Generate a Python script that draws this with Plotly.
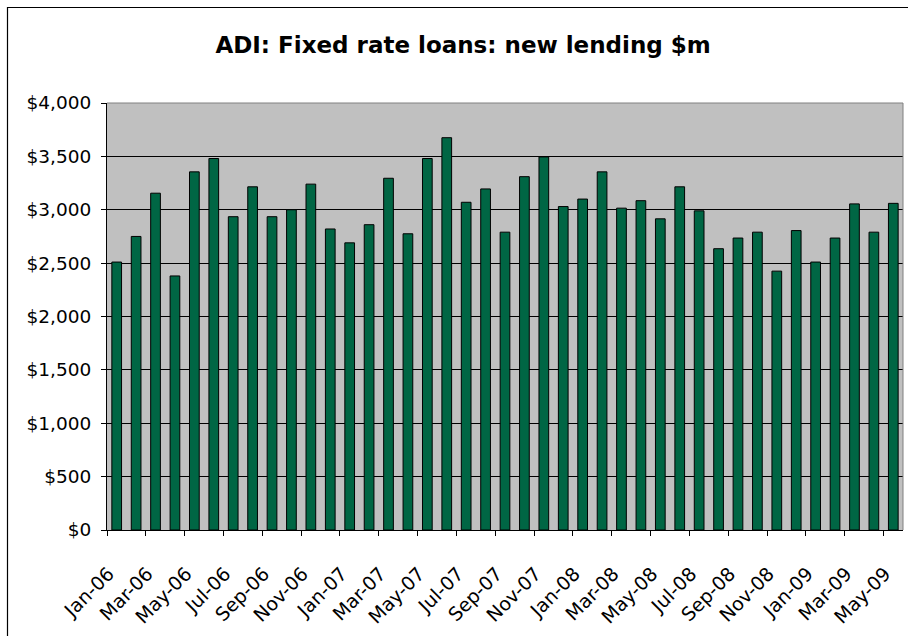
import plotly.graph_objects as go

# Monthly new lending on fixed rate loans by ADIs ($m)
months = [
    "Jan-06", "Feb-06", "Mar-06", "Apr-06", "May-06", "Jun-06",
    "Jul-06", "Aug-06", "Sep-06", "Oct-06", "Nov-06", "Dec-06",
    "Jan-07", "Feb-07", "Mar-07", "Apr-07", "May-07", "Jun-07",
    "Jul-07", "Aug-07", "Sep-07", "Oct-07", "Nov-07", "Dec-07",
    "Jan-08", "Feb-08", "Mar-08", "Apr-08", "May-08", "Jun-08",
    "Jul-08", "Aug-08", "Sep-08", "Oct-08", "Nov-08", "Dec-08",
    "Jan-09", "Feb-09", "Mar-09", "Apr-09", "May-09",
]
lending = [
    2510, 2750, 3155, 2380, 3355, 3480,
    2935, 3215, 2935, 3000, 3240, 2820,
    2690, 2860, 3295, 2775, 3480, 3675,
    3070, 3195, 2790, 3310, 3495, 3030,
    3100, 3355, 3015, 3085, 2915, 3215,
    2990, 2635, 2735, 2790, 2425, 2805,
    2510, 2735, 3055, 2790, 3060,
]
y_ticks = [0, 500, 1000, 1500, 2000, 2500, 3000, 3500, 4000]
y_labels = ["$" + format(v, ",") for v in y_ticks]

FONT = "DejaVu Sans, Arial, sans-serif"
W, H = 908, 636
L, R, T, B = 107, 5, 103, 106

idx = list(range(len(months)))
n = len(months)
# tick marks on the category boundaries, every second month
tick_pos = [i - 0.5 for i in idx[::2]]
# month labels, hanging from just right of each boundary
label_pos = [i - 0.42 for i in idx[::2]]
label_txt = months[::2]

fig = go.Figure(
    go.Bar(
        x=idx,
        y=lending,
        width=0.5,
        marker=dict(color="#006644", line=dict(color="#000000", width=1)),
        hoverinfo="y",
    )
)

pw, ph = W - L - R, H - T - B
def px_x(p):
    return (p - L) / pw
def px_y(p):
    return (H - B - p) / ph

fig.update_layout(
    width=W,
    height=H,
    margin=dict(l=L, r=R, t=T, b=B),
    paper_bgcolor="white",
    plot_bgcolor="#C0C0C0",
    showlegend=False,
    title=dict(
        text="<b>ADI: Fixed rate loans: new lending $m</b>",
        x=0.51,
        xanchor="center",
        y=1 - 45 / H,
        yanchor="middle",
        font=dict(family=FONT, size=23, color="#000000"),
    ),
    xaxis=dict(
        range=[-0.5, n - 0.5],
        tickmode="array",
        tickvals=tick_pos,
        showticklabels=False,
        ticks="outside",
        ticklen=5,
        tickcolor="#000000",
        showgrid=False,
        zeroline=False,
        showline=True,
        linecolor="#000000",
        linewidth=1,
    ),
    xaxis2=dict(
        overlaying="x",
        anchor="y",
        side="bottom",
        matches="x",
        tickmode="array",
        tickvals=label_pos,
        ticktext=label_txt,
        tickangle=-45,
        ticks="",
        ticklabelstandoff=28,
        showgrid=False,
        zeroline=False,
        showline=False,
        tickfont=dict(family=FONT, size=19, color="#000000"),
    ),
    yaxis=dict(
        range=[0, 4000],
        tickmode="array",
        tickvals=y_ticks,
        ticktext=y_labels,
        ticks="outside",
        ticklen=5,
        tickcolor="#000000",
        showgrid=True,
        gridcolor="#000000",
        gridwidth=1,
        zeroline=False,
        showline=True,
        linecolor="#000000",
        linewidth=1,
        ticklabelstandoff=6,
        tickfont=dict(family=FONT, size=18.5, color="#000000"),
    ),
    shapes=[
        # grey frame on top and right of the plot area
        dict(type="line", xref="paper", yref="paper", x0=0, x1=1, y0=1, y1=1,
             line=dict(color="#808080", width=1)),
        dict(type="line", xref="paper", yref="paper", x0=1, x1=1, y0=0, y1=1,
             line=dict(color="#808080", width=1)),
        # outer chart border
        dict(type="rect", xref="paper", yref="paper",
             x0=px_x(7.5), x1=px_x(918), y0=px_y(646), y1=px_y(7.5),
             line=dict(color="#000000", width=1.2), fillcolor="rgba(0,0,0,0)"),
    ],
)

# invisible trace that carries the label axis
fig.add_trace(go.Scatter(x=[idx[0]], y=[0], xaxis="x2", mode="markers",
                         marker=dict(opacity=0), hoverinfo="skip",
                         showlegend=False))

fig.write_html("out.html")
